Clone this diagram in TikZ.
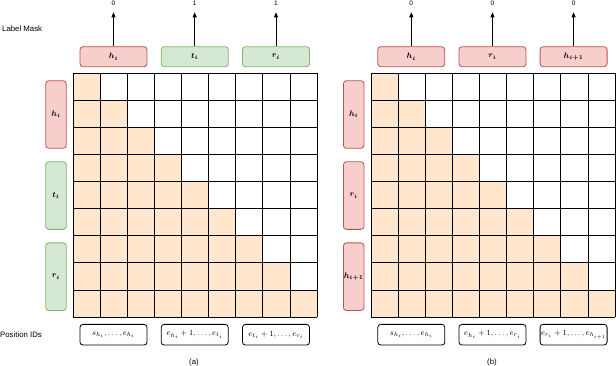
\documentclass[tikz,border=0pt]{standalone}
\usepackage{fontspec}
\setmainfont{Liberation Sans}
\usepackage{amsmath}
\usepackage{bm}
\usetikzlibrary{arrows.meta}
\definecolor{peach}{HTML}{FFE6CC}
\definecolor{redfill}{HTML}{F8CECC}
\definecolor{redline}{HTML}{B85450}
\definecolor{greenfill}{HTML}{D5E8D4}
\definecolor{greenline}{HTML}{82B366}
\tikzset{
  redbox/.style={draw=redline, fill=redfill, rounded corners=3pt, line width=0.8pt, inner sep=0pt},
  greenbox/.style={draw=greenline, fill=greenfill, rounded corners=3pt, line width=0.8pt, inner sep=0pt},
  hbox/.style={minimum width=67pt, minimum height=20pt},
  vbox/.style={minimum width=20.6pt, minimum height=67.6pt},
  idbox/.style={draw=black, fill=white, rounded corners=3pt, line width=0.8pt, inner sep=0pt, minimum width=67pt, minimum height=20.7pt, font=\fontsize{8.5}{9}\selectfont},
  plain/.style={font=\fontsize{7.8}{8}\selectfont, inner sep=0pt},
  maskval/.style={font=\fontsize{6.5}{7}\selectfont, inner sep=0pt},
  maskarrow/.style={-{Triangle[length=5pt,width=4pt]}, line width=0.8pt},
  gridline/.style={line width=0.7pt, draw=black},
  lbl/.style={font=\footnotesize, inner sep=0pt}
}
\begin{document}
\begin{tikzpicture}[x=1pt,y=-1pt]
\useasboundingbox (0,0) rectangle (616,366);
\def\cs{27.11}
% grids
\foreach \ox/\nm in {73/L,371/R}{
  \foreach \r in {0,...,8}{
    \foreach \c in {0,...,\r}{
      \fill[peach] (\ox+\c*\cs,73+\r*\cs) rectangle ++(\cs,\cs);
    }
  }
  \foreach \k in {0,...,9}{
    \draw[gridline] (\ox+\k*\cs,73) -- (\ox+\k*\cs,73+9*\cs);
    \draw[gridline] (\ox,73+\k*\cs) -- (\ox+9*\cs,73+\k*\cs);
  }
}
% text labels
\node[plain, anchor=west] (lm) at (2,29) {Label Mask};
\node[plain, anchor=west] (pid) at (0,334.5) {Position IDs};
\node[plain] (capa) at (194,362) {(a)};
\node[plain] (capb) at (492,362) {(b)};
% left diagram top boxes
\node[redbox,hbox,lbl] (ta1) at (113.5,56.7) {$\bm{h_i}$};
\node[greenbox,hbox,lbl] (ta2) at (194.7,56.7) {$\bm{t_i}$};
\node[greenbox,hbox,lbl] (ta3) at (276,56.7) {$\bm{r_i}$};
% right diagram top boxes
\node[redbox,hbox,lbl] (tb1) at (411.3,56.7) {$\bm{h_i}$};
\node[redbox,hbox,lbl] (tb2) at (492.5,56.7) {$\bm{r_i}$};
\node[redbox,hbox,lbl] (tb3) at (573.6,56.7) {$\bm{h_{i+1}}$};
% arrows and mask values
\foreach \b/\v in {ta1/0,ta2/1,ta3/1,tb1/0,tb2/0,tb3/0}{
  \coordinate (\b-tip) at ([yshift=34pt]\b.north);
  \draw[maskarrow] (\b.north) -- (\b-tip);
  \node[maskval, anchor=north] (\b-val) at ([yshift=45.6pt]\b.north) {\v};
}
% left side boxes
\node[redbox,vbox,lbl] (la1) at (56,114.5) {$\bm{h_i}$};
\node[greenbox,vbox,lbl] (la2) at (56,195.6) {$\bm{t_i}$};
\node[greenbox,vbox,lbl] (la3) at (56,276.7) {$\bm{r_i}$};
\node[redbox,vbox,lbl] (lb1) at (353.7,114.5) {$\bm{h_i}$};
\node[redbox,vbox,lbl] (lb2) at (353.7,195.6) {$\bm{r_i}$};
\node[redbox,vbox,lbl] (lb3) at (353.7,276.7) {$\bm{h_{i+1}}$};
% bottom position id boxes
\node[idbox] (ba1) at (113.5,334.7) {$s_{h_i},\dots,e_{h_i}$};
\node[idbox] (ba2) at (194.7,334.7) {$e_{h_i}+1,\dots,e_{t_i}$};
\node[idbox] (ba3) at (276,334.7) {$e_{t_i}+1,\dots,e_{r_i}$};
\node[idbox] (bb1) at (411.3,334.7) {$s_{h_i},\dots,e_{h_i}$};
\node[idbox] (bb2) at (492.5,334.7) {$e_{h_i}+1,\dots,e_{r_i}$};
\node[idbox] (bb3) at (573.6,334.7) {$e_{r_i}+1,\dots,e_{h_{i+1}}$};
\end{tikzpicture}
\end{document}
